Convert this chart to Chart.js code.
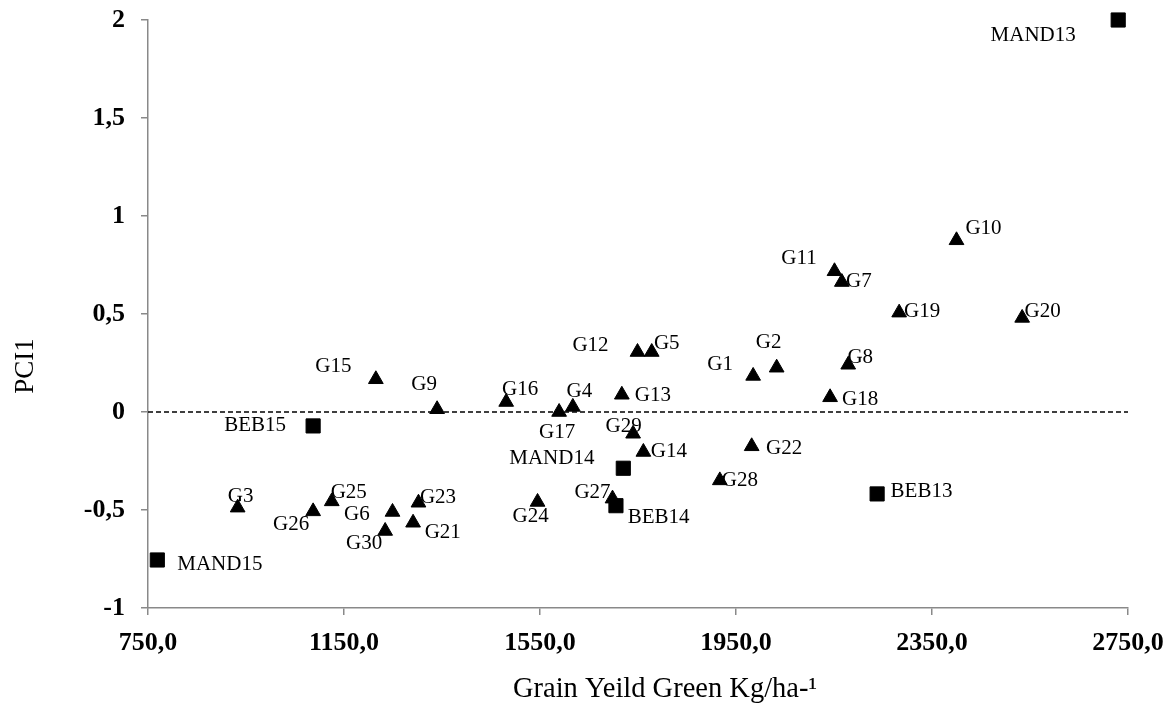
<!DOCTYPE html>
<html>
<head>
<meta charset="utf-8">
<script src="https://cdn.jsdelivr.net/npm/chart.js@4/dist/chart.umd.min.js"></script>
<style>
html, body { margin: 0; padding: 0; background: #ffffff; }
#wrap { width: 1172px; height: 704px; }
</style>
</head>
<body>
<div id="wrap"><canvas id="c" width="1172" height="704"></canvas></div>
<script>
// ---------- data ----------
const genotypeNames = ['G1','G2','G3','G4','G5','G6','G7','G8','G9','G10',
  'G11','G12','G13','G14','G15','G16','G17','G18','G19','G20',
  'G21','G22','G23','G24','G25','G26','G27','G28','G29','G30'];
const genotypeYield = [1985, 2033, 933, 1617, 1778, 1249, 2166, 2179, 1340, 2400,
  2151, 1749, 1717, 1761, 1215, 1481, 1589, 2142, 2283, 2534,
  1291, 1982, 1302, 1545, 1125, 1087, 1698, 1917, 1740, 1234];
const genotypePCI1 = [0.184, 0.226, -0.488, 0.026, 0.306, -0.51, 0.663, 0.241, 0.014, 0.876,
  0.718, 0.306, 0.088, -0.204, 0.167, 0.051, 0.0, 0.075, 0.507, 0.48,
  -0.565, -0.175, -0.463, -0.459, -0.456, -0.507, -0.442, -0.349, -0.111, -0.607];

const checkNames = ['MAND13','MAND14','MAND15','BEB13','BEB14','BEB15'];
const checkYield = [2730, 1720, 769, 2238, 1705, 1087];
const checkPCI1 = [2.0, -0.287, -0.755, -0.418, -0.478, -0.071];

const xTickLabels = ['750,0','1150,0','1550,0','1950,0','2350,0','2750,0'];
const yTickLabels = ['-1','-0,5','0','0,5','1','1,5','2'];
const xAxisTitle = 'Grain Yeild Green Kg/ha-\u00B9';
const yAxisTitle = 'PCI1';

// ---------- label placement (pixel offsets from each marker) ----------
const labelOffsets = {
  G1:[-33,-13], G2:[-8,-27], G3:[3,-12.7], G4:[6.5,-17], G5:[15,-10], G6:[-35.6,1],
  G7:[17,-2], G8:[12,-9], G9:[-13,-26], G10:[27,-13], G11:[-35.5,-14], G12:[-47,-8],
  G13:[31,-1], G14:[25.5,-2], G15:[-42.5,-14], G16:[14,-14], G17:[-2,19], G18:[30,1],
  G19:[23,-3], G20:[20.5,-8], G21:[29.7,8.5], G22:[32.5,1], G23:[19.5,-7], G24:[-7,13],
  G25:[17,-10], G26:[-22,11.7], G27:[-20,-7.5], G28:[20,-1], G29:[-9.5,-9], G30:[-21,11.5],
  MAND13:[-85,14], MAND14:[-71.5,-11.6], MAND15:[62.5,3.3], BEB13:[44.4,-3.7], BEB14:[42.6,10.6], BEB15:[-58,-2]
};

const SERIF = "'Liberation Serif', 'Times New Roman', 'DejaVu Serif', serif";
Chart.defaults.font.family = SERIF;
Chart.defaults.color = '#000000';

const pointLabelPlugin = {
  id: 'pointLabels',
  afterDatasetsDraw(chart) {
    const ctx = chart.ctx;
    ctx.save();
    ctx.font = '21px ' + SERIF;
    ctx.fillStyle = '#000000';
    ctx.textAlign = 'center';
    ctx.textBaseline = 'alphabetic';
    chart.data.datasets.forEach((ds, di) => {
      if (!ds.pointNames) return;
      const meta = chart.getDatasetMeta(di);
      meta.data.forEach((el, i) => {
        const name = ds.pointNames[i];
        const off = labelOffsets[name] || [0, 0];
        ctx.fillText(name, el.x + off[0], el.y + off[1] + 7);
      });
    });
    ctx.restore();
  }
};

const axisTitlePlugin = {
  id: 'axisTitles',
  afterDraw(chart) {
    const ctx = chart.ctx;
    const a = chart.chartArea;
    ctx.save();
    ctx.fillStyle = '#000000';
    ctx.textAlign = 'center';
    ctx.textBaseline = 'alphabetic';
    ctx.font = '28.5px ' + SERIF;
    ctx.fillText(xAxisTitle, (a.left + a.right) / 2 + 27, a.bottom + 89);
    ctx.font = '27px ' + SERIF;
    ctx.translate(33, a.top + 346);
    ctx.rotate(-Math.PI / 2);
    ctx.fillText(yAxisTitle, 0, 0);
    ctx.restore();
  }
};

const genotypeData = genotypeNames.map((n, i) => ({ x: genotypeYield[i], y: genotypePCI1[i] }));
const checkData = checkNames.map((n, i) => ({ x: checkYield[i], y: checkPCI1[i] }));

function zeroPad(scale) {
  scale.paddingTop = 0;
  scale.paddingBottom = 0;
  scale.paddingLeft = 0;
  scale.paddingRight = 0;
}

new Chart(document.getElementById('c'), {
  type: 'scatter',
  data: {
    datasets: [
      {
        label: 'Checks',
        data: checkData,
        pointNames: checkNames,
        pointStyle: 'rect',
        pointRadius: 10,
        pointBorderWidth: 1,
        backgroundColor: '#000000',
        borderColor: '#000000',
        clip: false
      },
      {
        label: 'Genotypes',
        data: genotypeData,
        pointNames: genotypeNames,
        pointStyle: 'triangle',
        pointRadius: 8.5,
        pointBorderWidth: 1,
        backgroundColor: '#000000',
        borderColor: '#000000',
        clip: false
      },
      {
        label: 'zero',
        data: [{ x: 750, y: 0 }, { x: 2750, y: 0 }],
        showLine: true,
        borderColor: '#000000',
        borderWidth: 1.5,
        borderDash: [5, 3],
        pointRadius: 0,
        fill: false
      }
    ]
  },
  options: {
    responsive: false,
    animation: false,
    layout: { padding: { left: 0, top: 20, right: 44, bottom: 0 } },
    plugins: { legend: { display: false }, tooltip: { enabled: false } },
    scales: {
      x: {
        type: 'linear',
        min: 750, max: 2750,
        afterFit(scale) { scale.height = 96; zeroPad(scale); },
        ticks: {
          stepSize: 400,
          padding: 13,
          font: { size: 26, weight: 'bold', family: SERIF },
          color: '#000000',
          callback: (v, i) => xTickLabels[i]
        },
        grid: { drawOnChartArea: false, drawTicks: true, tickLength: 7, color: '#898989', lineWidth: 1.5 },
        border: { display: true, color: '#898989', width: 1.5 }
      },
      y: {
        type: 'linear',
        min: -1, max: 2,
        afterFit(scale) { scale.width = 148; zeroPad(scale); },
        ticks: {
          stepSize: 0.5,
          padding: 16,
          font: { size: 26, weight: 'bold', family: SERIF },
          color: '#000000',
          callback: (v, i) => yTickLabels[i]
        },
        grid: { drawOnChartArea: false, drawTicks: true, tickLength: 7, color: '#898989', lineWidth: 1.5 },
        border: { display: true, color: '#898989', width: 1.5 }
      }
    }
  },
  plugins: [pointLabelPlugin, axisTitlePlugin]
});
</script>
</body>
</html>
